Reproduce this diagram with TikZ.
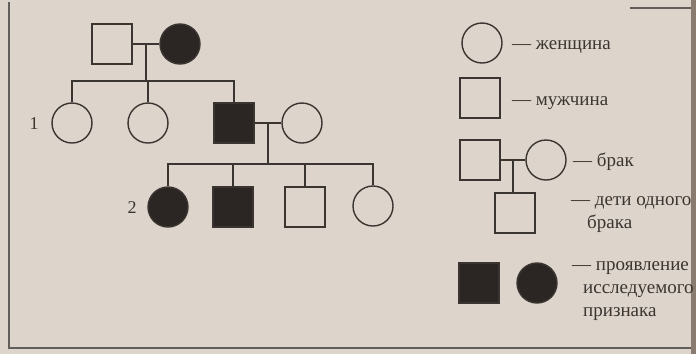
\documentclass[tikz,border=0pt]{standalone}
\usepackage{fontspec}
\setmainfont{Liberation Serif}
\usetikzlibrary{calc}
\definecolor{paper}{HTML}{DDD5CB}
\definecolor{ink}{HTML}{3A3531}
\definecolor{marked}{HTML}{2B2624}
\definecolor{edge}{HTML}{8A7B70}

\tikzset{
  female/.style={circle, draw=ink, line width=1.4pt, minimum size=40pt, inner sep=0pt},
  male/.style={rectangle, draw=ink, line width=1.4pt, minimum size=40pt, inner sep=0pt},
  affected/.style={fill=marked},
  tie/.style={draw=ink, line width=1.4pt},
  legtext/.style={anchor=base west, inner sep=0pt, align=left,
                  font=\fontsize{19}{23}\selectfont, text=ink},
  gen/.style={font=\fontsize{18}{20}\selectfont, text=ink}
}

\begin{document}
\begin{tikzpicture}[x=1pt, y=-1pt]
  % paper and page edges
  \fill[paper] (0,0) rectangle (696,354);
  \useasboundingbox (0,0) rectangle (696,354);
  \fill[edge] (691,0) rectangle (696,354);
  \draw[ink!80, line width=1.5pt] (9,2) -- (9,348) -- (691,348);
  \draw[ink!80, line width=1.2pt] (630,8) -- (691,8);

  % first generation
  \node[male] (p1) at (112,44) {};
  \node[female, affected] (p2) at (180,44) {};
  % second generation
  \node[female] (g2a) at (72,123) {};
  \node[female] (g2b) at (148,123) {};
  \node[male, affected] (g2c) at (234,123) {};
  \node[female] (g2d) at (302,123) {};
  % third generation
  \node[female, affected] (g3a) at (168,207) {};
  \node[male, affected] (g3b) at (233,207) {};
  \node[male] (g3c) at (305,207) {};
  \node[female] (g3d) at (373,206) {};

  \node[gen] (n1) at (34,124) {1};
  \node[gen] (n2) at (132,208) {2};

  % marriages and offspring
  \coordinate (u1) at ($(p1.east)!0.5!(p2.west)$);
  \coordinate (b1) at ($(u1)+(0,37)$);
  \draw[tie] (p1) -- (p2);
  \draw[tie] (u1) -- (b1);
  \draw[tie] (g2a.north) |- (g2c.north |- b1) -- (g2c.north);
  \draw[tie] (g2b.north) -- (g2b.north |- b1);

  \coordinate (u2) at ($(g2c.east)!0.5!(g2d.west)$);
  \coordinate (b2) at ($(u2)+(0,41)$);
  \draw[tie] (g2c) -- (g2d);
  \draw[tie] (u2) -- (b2);
  \draw[tie] (g3a.north) |- (g3d.north |- b2) -- (g3d.north);
  \draw[tie] (g3b.north) -- (g3b.north |- b2);
  \draw[tie] (g3c.north) -- (g3c.north |- b2);

  % legend
  \node[female] (lf) at (482,43) {};
  \node[legtext] (tf) at (512,49) {— женщина};
  \node[male] (lm) at (480,98) {};
  \node[legtext] (tm) at (512,105) {— мужчина};

  \node[male] (lpm) at (480,160) {};
  \node[female] (lpf) at (546,160) {};
  \coordinate (lu) at ($(lpm.east)!0.5!(lpf.west)$);
  \node[male] (lc) at (515,213) {};
  \draw[tie] (lpm) -- (lpf);
  \draw[tie] (lu) -- (lu |- lc.north);
  \node[legtext] (tb) at (573,166) {— брак};
  \node[legtext] (tc) at (571,228) {— дети одного\\\hspace*{16pt}брака};

  \node[male, affected] (la) at (479,283) {};
  \node[female, affected] (lb) at (537,283) {};
  \node[legtext] (ta) at (572,316)
    {— проявление\\\hspace*{11pt}исследуемого\\\hspace*{11pt}признака};
\end{tikzpicture}
\end{document}
